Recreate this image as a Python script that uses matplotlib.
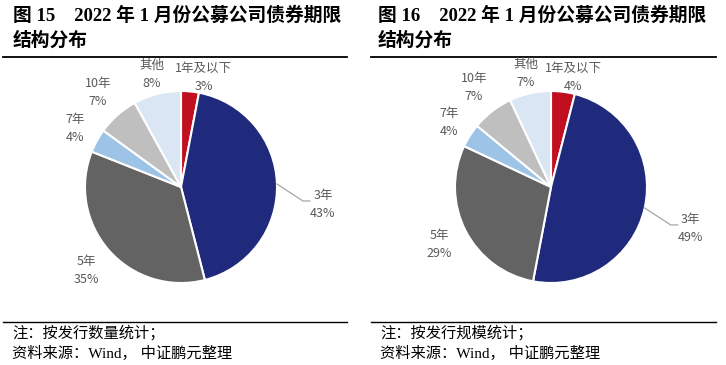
import matplotlib.pyplot as plt
import numpy as np

plt.rcParams['font.family'] = ['Noto Sans CJK SC', 'DejaVu Sans']

# data
terms = ['1年及以下', '3年', '5年', '7年', '10年', '其他']
share_by_count = [3, 43, 35, 4, 7, 8]   # 图15 按发行数量
share_by_scale = [4, 49, 29, 4, 7, 7]   # 图16 按发行规模
colors = ['#C00F1E', '#1F2A7C', '#636363', '#9DC3E6', '#BFBFBF', '#DAE6F4']

titles = [['图 15    2022 年 1 月份公募公司债券期限', '结构分布'],
          ['图 16    2022 年 1 月份公募公司债券期限', '结构分布']]
notes = ['注：按发行数量统计；', '注：按发行规模统计；']
source = '资料来源：Wind， 中证鹏元整理'

# layout in pixels
W, H = 726, 365
R = 96
label_dist = [1.15, None, 1.31, 1.26, 1.31, 1.21]   # radial distance of labels (x R)
panels = [dict(vals=share_by_count, cx=181, left=3, right=347, tx=13),
          dict(vals=share_by_scale, cx=551, left=371, right=716, tx=378)]
serif_cjk = ['Liberation Serif', 'Noto Sans CJK SC']
label_color = '#595959'

fig = plt.figure(figsize=(W / 100, H / 100), dpi=100)
ax = fig.add_axes([0, 0, 1, 1])

for p, title, note in zip(panels, titles, notes):
    cx, cy = p['cx'], H - 187
    wedges, _ = ax.pie(p['vals'], colors=colors, startangle=90, counterclock=False,
                       center=(cx, cy), radius=R,
                       wedgeprops=dict(edgecolor='white', linewidth=1.5))

    for i, (w, term, v) in enumerate(zip(wedges, terms, p['vals'])):
        mid = np.deg2rad((w.theta1 + w.theta2) / 2)
        txt = f'{term}\n{v}%'
        if i == 1:
            # 3年: leader line
            ex, ey = cx + R * np.cos(mid), cy + R * np.sin(mid)
            bx, by = ex + 26, ey - 17
            ax.plot([ex, bx, bx + 7], [ey, by, by], color='#A6A6A6', lw=0.9)
            ax.text(bx + 20, by - 4, txt, ha='center', va='center', fontsize=9,
                    color=label_color, linespacing=1.5)
        elif i == 0:
            # first slice sits next to the top, label pushed to the right
            ly = cy + label_dist[i] * R * np.sin(mid)
            ax.text(cx - 6, ly, txt, ha='left', va='center', fontsize=9,
                    color=label_color, linespacing=1.5, multialignment='center')
        else:
            lx = cx + label_dist[i] * R * np.cos(mid)
            ly = cy + label_dist[i] * R * np.sin(mid)
            ax.text(lx, ly, txt, ha='center', va='center', fontsize=9,
                    color=label_color, linespacing=1.5)

    # title + rules
    ax.text(p['tx'], H - 16, title[0], ha='left', va='center', fontsize=13.5,
            fontweight='bold', family=serif_cjk)
    ax.text(p['tx'], H - 41, title[1], ha='left', va='center', fontsize=13.5,
            fontweight='bold', family=serif_cjk)
    ax.plot([p['left'], p['right']], [H - 57, H - 57], color='black', lw=1.3)
    ax.plot([p['left'], p['right']], [H - 322, H - 322], color='black', lw=1.0)

    # notes
    nx = p['tx'] - 1 if p['tx'] < 100 else p['tx'] + 2
    ax.text(nx, H - 333, note, ha='left', va='center', fontsize=11, family=serif_cjk)
    ax.text(nx, H - 353, source, ha='left', va='center', fontsize=11, family=serif_cjk)

ax.set_xlim(0, W)
ax.set_ylim(0, H)
ax.set_aspect('auto')
ax.axis('off')

fig.savefig('out.png', dpi=100)
